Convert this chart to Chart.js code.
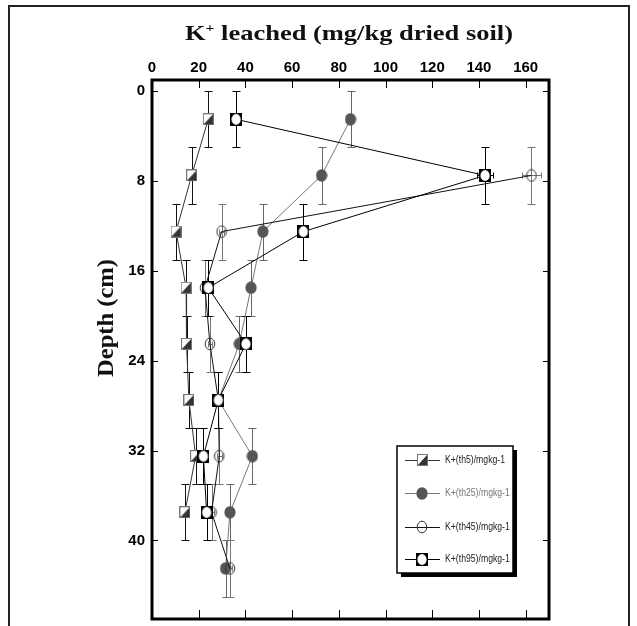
<!DOCTYPE html>
<html>
<head>
<meta charset="utf-8">
<script src="https://cdn.jsdelivr.net/npm/chart.js@4/dist/chart.umd.min.js"></script>
<style>
  html, body { margin: 0; padding: 0; background: #fff; }
  #wrap { position: relative; width: 637px; height: 626px; overflow: hidden; }
  #frame { position: absolute; left: 8px; top: 5px; width: 622px; height: 640px; border: 2px solid #222; box-sizing: border-box; pointer-events: none; }
</style>
</head>
<body>
<div id="wrap">
  <canvas id="depth-chart" width="637" height="626"></canvas>
  <div id="frame"></div>
</div>
<script>
// profundidades (centro de cada camada, cm)
const depths = [2.5, 7.5, 12.5, 17.5, 22.5, 27.5, 32.5, 37.5, 42.5];
const depthErr = 2.5;

// K+ lixiviado (mg/kg solo seco)
const th5  = [24.1, 17.0, 10.3, 14.6, 14.8, 15.8, 18.7, 14.1];
const th25 = [85.0, 72.6, 47.5, 42.4, 37.4, 28.4, 43.0, 33.4, 31.5];
const th45 = [null, 162.5, 29.8, 22.7, 24.8, 28.4, 28.8, 25.5, 33.4];
const th95 = [36.0, 142.6, 64.8, 24.1, 40.2, 28.4, 22.0, 23.4];

// erro horizontal
const th5Err  = [0.8, 0.8, 0.8, 0.8, 0.8, 0.8, 0.8, 0.8];
const th25Err = [1.2, 1.0, 0.8, 0.8, 1.0, 0.8, 0.8, 0.8, 0.8];
const th45Err = [null, 4.0, 1.0, 1.0, 1.0, 1.0, 1.0, 1.0, 1.0];
const th95Err = [1.0, 3.6, 1.0, 1.0, 1.0, 1.0, 1.0, 1.0];

const labels = ['K+(th5)/mgkg-1', 'K+(th25)/mgkg-1', 'K+(th45)/mgkg-1', 'K+(th95)/mgkg-1'];
const xTicks = [0, 20, 40, 60, 80, 100, 120, 140, 160];
const yTicks = [0, 8, 16, 24, 32, 40];

function toPoints(vals, errs) {
    return depths.map((d, i) => ({ x: vals[i], y: d, xe: errs[i] }))
        .filter(p => p.x != null && p.x !== undefined);
}

// marcadores
function markerHalfSquare() {
    const c = document.createElement('canvas');
    c.width = 11; c.height = 12;
    const g = c.getContext('2d');
    g.fillStyle = '#fff';
    g.fillRect(0, 0, 11, 12);
    g.fillStyle = '#333';
    g.beginPath(); g.moveTo(11, 0); g.lineTo(11, 12); g.lineTo(0, 12); g.closePath(); g.fill();
    g.strokeStyle = '#777'; g.lineWidth = 1;
    g.strokeRect(0.5, 0.5, 10, 11);
    return c;
}
function markerDisc() {
    const c = document.createElement('canvas');
    c.width = 12; c.height = 13;
    const g = c.getContext('2d');
    g.fillStyle = '#555';
    g.beginPath(); g.ellipse(6, 6.5, 5.6, 6.2, 0, 0, Math.PI * 2); g.fill();
    return c;
}
function markerRing() {
    const c = document.createElement('canvas');
    c.width = 12; c.height = 14;
    const g = c.getContext('2d');
    g.strokeStyle = '#333'; g.lineWidth = 1;
    g.beginPath(); g.ellipse(6, 7, 4.8, 5.8, 0, 0, Math.PI * 2); g.stroke();
    return c;
}
function markerBoxRing() {
    const c = document.createElement('canvas');
    c.width = 12; c.height = 13;
    const g = c.getContext('2d');
    g.fillStyle = '#000';
    g.fillRect(0, 0, 12, 13);
    g.fillStyle = '#fff';
    g.beginPath(); g.ellipse(6, 6.5, 4.6, 5.4, 0, 0, Math.PI * 2); g.fill();
    return c;
}

const styles = [
    { line: '#333', err: '#111', text: '#222', marker: markerHalfSquare() },
    { line: '#777', err: '#666', text: '#777', marker: markerDisc() },
    { line: '#111', err: '#777', text: '#222', marker: markerRing() },
    { line: '#000', err: '#000', text: '#222', marker: markerBoxRing() }
];

const series = [[th5, th5Err], [th25, th25Err], [th45, th45Err], [th95, th95Err]];

const datasets = series.map((s, i) => ({
    label: labels[i],
    data: toPoints(s[0], s[1]),
    showLine: true,
    borderColor: styles[i].line,
    borderWidth: 1,
    pointStyle: styles[i].marker,
    pointRadius: 6,
    tension: 0,
    order: 4 - i
}));

const errorBars = {
    id: 'errorBars',
    beforeDatasetsDraw(chart) {
        const ctx = chart.ctx;
        const xs = chart.scales.x, ys = chart.scales.y;
        ctx.save();
        ctx.lineWidth = 1;
        chart.data.datasets.forEach((ds, i) => {
            ctx.strokeStyle = styles[i].err;
            ds.data.forEach(p => {
                const px = Math.round(xs.getPixelForValue(p.x)) + 0.5;
                const py = Math.round(ys.getPixelForValue(p.y)) + 0.5;
                const y1 = Math.round(ys.getPixelForValue(p.y - depthErr)) + 0.5;
                const y2 = Math.round(ys.getPixelForValue(p.y + depthErr)) + 0.5;
                const x1 = Math.round(xs.getPixelForValue(p.x - p.xe)) + 0.5;
                const x2 = Math.round(xs.getPixelForValue(p.x + p.xe)) + 0.5;
                ctx.beginPath();
                ctx.moveTo(px, y1); ctx.lineTo(px, y2);
                ctx.moveTo(px - 4, y1); ctx.lineTo(px + 4, y1);
                ctx.moveTo(px - 4, y2); ctx.lineTo(px + 4, y2);
                ctx.moveTo(x1, py); ctx.lineTo(x2, py);
                ctx.moveTo(x1, py - 3); ctx.lineTo(x1, py + 3);
                ctx.moveTo(x2, py - 3); ctx.lineTo(x2, py + 3);
                ctx.stroke();
            });
        });
        ctx.restore();
    }
};

const frameAndText = {
    id: 'frameAndText',
    afterDraw(chart) {
        const ctx = chart.ctx;
        const a = chart.chartArea;
        const xs = chart.scales.x, ys = chart.scales.y;
        ctx.save();

        // marcas dos eixos (para dentro)
        ctx.strokeStyle = '#000';
        ctx.lineWidth = 1;
        ctx.beginPath();
        xTicks.forEach(v => {
            const px = Math.round(xs.getPixelForValue(v)) + 0.5;
            ctx.moveTo(px, a.top); ctx.lineTo(px, a.top + 8);
            ctx.moveTo(px, a.bottom); ctx.lineTo(px, a.bottom - 9);
        });
        yTicks.forEach(v => {
            const py = Math.round(ys.getPixelForValue(v)) + 0.5;
            ctx.moveTo(a.left, py); ctx.lineTo(a.left + 6, py);
            ctx.moveTo(a.right, py); ctx.lineTo(a.right - 6, py);
        });
        ctx.stroke();

        ctx.lineWidth = 3;
        ctx.strokeRect(a.left, a.top, a.right - a.left, a.bottom - a.top);

        // titulo do eixo x
        ctx.fillStyle = '#111';
        ctx.textBaseline = 'alphabetic';
        const big = 'bold 22px "Liberation Serif", serif';
        const small = 'bold 13px "Liberation Serif", serif';
        const rest = ' leached (mg/kg dried soil)';
        ctx.font = big;
        const wK = ctx.measureText('K').width;
        const wR = ctx.measureText(rest).width;
        ctx.font = small;
        const wP = ctx.measureText('+').width;
        const total = wK + wP + wR;
        const sx = 328 / total;
        ctx.save();
        ctx.translate(349 - 164, 40);
        ctx.scale(sx, 1);
        ctx.font = big; ctx.fillText('K', 0, 0);
        ctx.font = small; ctx.fillText('+', wK, -8);
        ctx.font = big; ctx.fillText(rest, wK + wP, 0);
        ctx.restore();

        // titulo do eixo y
        ctx.save();
        ctx.translate(113, 318);
        ctx.rotate(-Math.PI / 2);
        ctx.font = 'bold 23px "Liberation Serif", serif';
        const wd = ctx.measureText('Depth (cm)').width;
        ctx.scale(118 / wd, 1);
        ctx.textAlign = 'center';
        ctx.fillText('Depth (cm)', 0, 0);
        ctx.restore();

        // legenda
        const lx = 397, ly = 446, lw = 116, lh = 127;
        ctx.fillStyle = '#000';
        ctx.fillRect(lx + 4, ly + 4, lw, lh);
        ctx.fillStyle = '#fff';
        ctx.fillRect(lx, ly, lw, lh);
        ctx.lineWidth = 1.5;
        ctx.strokeStyle = '#000';
        ctx.strokeRect(lx, ly, lw, lh);
        const rows = [460, 493, 527, 559];
        ctx.font = '11px "Liberation Sans", sans-serif';
        const shrink = 60 / ctx.measureText(labels[0]).width;
        labels.forEach((t, i) => {
            const y = rows[i];
            ctx.strokeStyle = styles[i].line;
            ctx.lineWidth = 1;
            ctx.beginPath(); ctx.moveTo(405, y + 0.5); ctx.lineTo(440, y + 0.5); ctx.stroke();
            const m = styles[i].marker;
            ctx.drawImage(m, Math.round(422 - m.width / 2), Math.round(y - m.height / 2));
            ctx.save();
            ctx.translate(445, y);
            ctx.scale(shrink, 1);
            ctx.fillStyle = styles[i].text;
            ctx.textBaseline = 'middle';
            ctx.fillText(t, 0, 0);
            ctx.restore();
        });

        ctx.restore();
    }
};

const tickFont = { family: '"Liberation Sans Narrow", "Liberation Sans", sans-serif', size: 15, weight: 'bold' };

function noPad(axis) {
    axis.paddingLeft = 0; axis.paddingRight = 0;
    axis.paddingTop = 0; axis.paddingBottom = 0;
}

new Chart(document.getElementById('depth-chart'), {
    type: 'scatter',
    data: { datasets: datasets },
    options: {
        responsive: false,
        animation: false,
        devicePixelRatio: 1,
        layout: { padding: { left: 0, top: 0, right: 88, bottom: 4 } },
        plugins: {
            legend: { display: false },
            tooltip: { enabled: false }
        },
        scales: {
            x: {
                type: 'linear',
                position: 'top',
                min: 0,
                max: 170,
                afterBuildTicks: axis => { axis.ticks = xTicks.map(v => ({ value: v })); },
                afterFit: axis => { axis.height = 80; noPad(axis); },
                grid: { display: false, drawTicks: false },
                border: { display: false },
                ticks: { color: '#000', font: tickFont, padding: 3, maxRotation: 0 }
            },
            y: {
                type: 'linear',
                reverse: true,
                min: -1,
                max: 47,
                afterBuildTicks: axis => { axis.ticks = yTicks.map(v => ({ value: v })); },
                afterFit: axis => { axis.width = 152; noPad(axis); },
                grid: { display: false, drawTicks: false },
                border: { display: false },
                ticks: { color: '#000', font: tickFont, padding: 7 }
            }
        }
    },
    plugins: [errorBars, frameAndText]
});
</script>
</body>
</html>
